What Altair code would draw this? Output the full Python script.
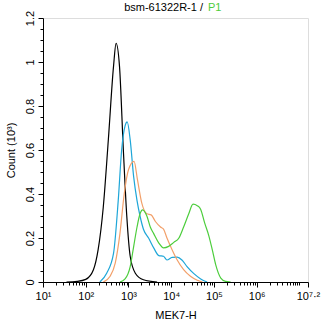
import altair as alt
import pandas as pd

# ---- data (x in log10 units of MEK7-H, y in Count x10^3) ----
black_log = [1.55, 1.80, 2.00, 2.18, 2.29, 2.41, 2.53, 2.65, 2.71, 2.79, 2.88, 2.96, 3.04, 3.16, 3.35, 3.67]
black_val = [0.0, 0.003, 0.012, 0.056, 0.147, 0.34, 0.65, 0.98, 1.085, 0.98, 0.60, 0.30, 0.117, 0.04, 0.01, 0.0]

blue_log = [2.33, 2.49, 2.65, 2.76, 2.84, 2.92, 2.97, 3.04, 3.12, 3.20, 3.27, 3.35, 3.47, 3.59, 3.71, 3.82, 3.90, 4.02, 4.14, 4.25, 4.37, 4.53, 4.69, 4.84]
blue_val = [0.0, 0.04, 0.13, 0.37, 0.60, 0.71, 0.728, 0.646, 0.48, 0.37, 0.30, 0.24, 0.20, 0.155, 0.12, 0.117, 0.10, 0.112, 0.113, 0.10, 0.07, 0.038, 0.014, 0.0]

orange_log = [2.41, 2.57, 2.69, 2.80, 2.90, 3.00, 3.13, 3.21, 3.31, 3.43, 3.53, 3.63, 3.75, 3.82, 3.90, 4.02, 4.14, 4.29, 4.45, 4.61, 4.73]
orange_val = [0.0, 0.026, 0.086, 0.22, 0.40, 0.51, 0.548, 0.465, 0.36, 0.31, 0.305, 0.275, 0.25, 0.24, 0.20, 0.147, 0.10, 0.056, 0.026, 0.008, 0.0]

green_log = [2.80, 2.92, 3.04, 3.12, 3.20, 3.27, 3.33, 3.43, 3.51, 3.59, 3.71, 3.82, 3.94, 4.06, 4.18, 4.29, 4.41, 4.51, 4.61, 4.69, 4.78, 4.88, 4.96, 5.04, 5.16, 5.27, 5.39]
green_val = [0.0, 0.014, 0.07, 0.16, 0.25, 0.31, 0.328, 0.30, 0.25, 0.22, 0.177, 0.155, 0.162, 0.18, 0.20, 0.25, 0.31, 0.354, 0.347, 0.33, 0.27, 0.21, 0.147, 0.079, 0.018, 0.003, 0.0]

series_names = ["black", "blue", "orange", "green"]
series_colors = ["#000000", "#1ea6d8", "#f2a06a", "#4ccd3c"]

x_major_values = [1e1, 1e2, 1e3, 1e4, 1e5, 1e6, 10 ** 7.2]
x_major_labels = ["10¹", "10²", "10³", "10⁴", "10⁵", "10⁶", "10⁷·²"]
x_minor_values = [m * 10 ** k for k in range(1, 7) for m in range(2, 10)] + [1e7]

y_major_values = [0, 0.2, 0.4, 0.6, 0.8, 1.0, 1.2]
y_minor_values = [round(i * 0.05, 2) for i in range(25)]

title_parts = ["bsm-61322R-1 /", "P1"]
title_colors = ["#000000", "#4ccd3c"]
x_title = "MEK7-H"
y_title = "Count  (10³)"

# ---- build table ----
rows = []
for name, logs, vals in [("black", black_log, black_val), ("blue", blue_log, blue_val),
                         ("orange", orange_log, orange_val), ("green", green_log, green_val)]:
    for i, (lx, v) in enumerate(zip(logs, vals)):
        rows.append({"x": 10 ** lx, "y": v, "series": name, "order": i})
df = pd.DataFrame(rows)


def match_expr(values, labels, default):
    expr = default
    for v, l in reversed(list(zip(values, labels))):
        expr = f"abs(datum.value - {v!r}) <= {abs(v) * 1e-6 + 1e-9!r} ? {l} : ({expr})"
    return expr


x_label_expr = match_expr(x_major_values, [f"'{l}'" for l in x_major_labels], "''")
x_tick_expr = match_expr(x_major_values, ["5"] * len(x_major_values), "3")
y_label_expr = "abs(datum.value*5 - round(datum.value*5)) < 1e-6 ? toString(round(datum.value*10)/10) : ''"
y_tick_expr = "abs(datum.value*5 - round(datum.value*5)) < 1e-6 ? 5 : 3"

FONT = "Liberation Sans"

x_axis = alt.Axis(
    values=sorted(x_major_values + x_minor_values),
    labelExpr=x_label_expr,
    tickSize=alt.ExprRef(x_tick_expr),
    grid=False, labelFont=FONT, labelFontSize=11, labelColor="#000",
    labelPadding=3, labelFlush=False, labelOverlap=False,
    title=x_title, titleFont=FONT, titleFontSize=11, titleFontWeight="normal",
    titleColor="#000", titlePadding=8,
    domainColor="#000", tickColor="#000",
)
y_axis = alt.Axis(
    values=y_minor_values,
    labelExpr=y_label_expr,
    tickSize=alt.ExprRef(y_tick_expr),
    grid=False, labelFont=FONT, labelFontSize=11, labelColor="#000",
    labelAngle=270, labelAlign="center", labelBaseline="bottom",
    labelPadding=3, labelFlush=False, labelOverlap=False,
    title=y_title, titleFont=FONT, titleFontSize=11, titleFontWeight="normal",
    titleColor="#000", titlePadding=8,
    domainColor="#000", tickColor="#000",
)

lines = alt.Chart(df).mark_line(strokeWidth=1.2, interpolate="monotone", clip=True).encode(
    x=alt.X("x:Q", scale=alt.Scale(type="log", domain=[10, 10 ** 7.2], nice=False), axis=x_axis),
    y=alt.Y("y:Q", scale=alt.Scale(domain=[0, 1.2], nice=False), axis=y_axis),
    color=alt.Color("series:N", scale=alt.Scale(domain=series_names, range=series_colors), legend=None),
    order="order:Q",
)

t1 = alt.Chart(pd.DataFrame({"t": [title_parts[0]]})).mark_text(
    align="right", baseline="middle", font=FONT, fontSize=11, color=title_colors[0]
).encode(x=alt.value(160), y=alt.value(-10), text="t:N")
t2 = alt.Chart(pd.DataFrame({"t": [title_parts[1]]})).mark_text(
    align="left", baseline="middle", font=FONT, fontSize=11, color=title_colors[1]
).encode(x=alt.value(165), y=alt.value(-10), text="t:N")

chart = alt.layer(lines, t1, t2).properties(
    width=265, height=264,
    padding={"left": 43, "top": 18, "right": 14, "bottom": 43},
    autosize="none",
).configure_view(stroke="#000", strokeWidth=1).configure(background="white")

chart.save("out.html", embed_options={"renderer": "svg", "actions": False})
